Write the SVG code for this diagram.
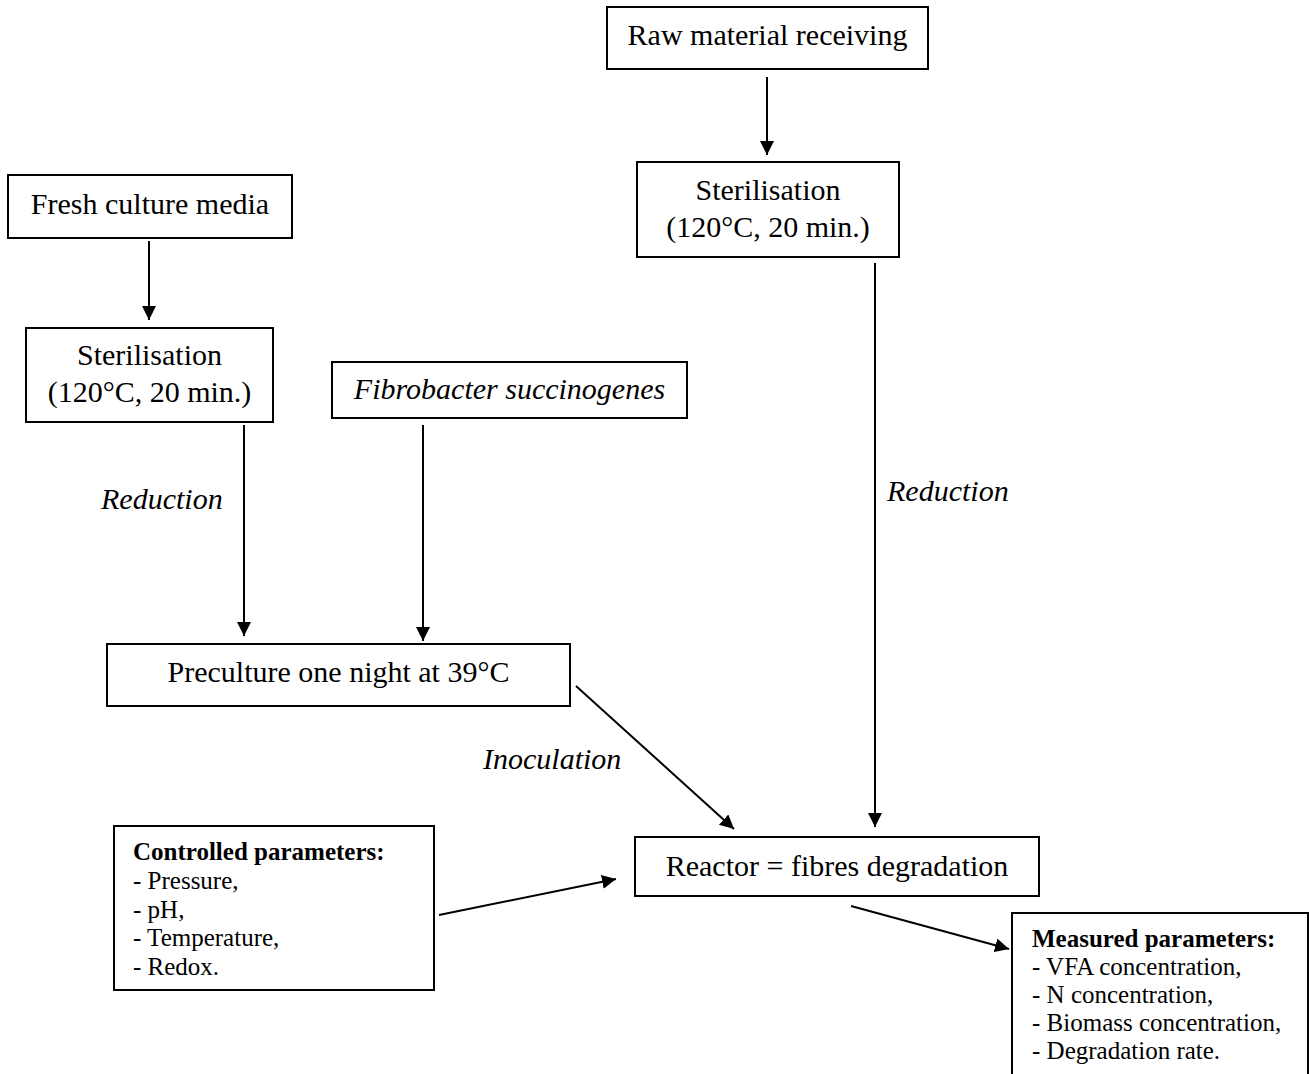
<svg xmlns="http://www.w3.org/2000/svg" width="1309" height="1074" viewBox="0 0 1309 1074">
  <style>
    .box { fill: #ffffff; stroke: #000000; stroke-width: 2; }
    .lbl { font-family: "Liberation Serif", "Times New Roman", serif; font-size: 30px; fill: #000000; }
    .mid { text-anchor: middle; }
    .it { font-style: italic; }
    .lst { font-family: "Liberation Serif", "Times New Roman", serif; font-size: 25px; fill: #000000; }
    .hd { font-weight: bold; }
    .wire { stroke: #000000; stroke-width: 2; fill: none; marker-end: url(#head); }
  </style>
  <defs>
    <marker id="head" markerUnits="userSpaceOnUse" markerWidth="15" markerHeight="15" refX="14" refY="7" orient="auto">
      <path d="M0,0 L14,7 L0,14 z" fill="#000000"/>
    </marker>
  </defs>
  <rect width="1309" height="1074" fill="#ffffff"/>

  <!-- connectors -->
  <g id="connectors">
    <line class="wire" x1="767" y1="77" x2="767" y2="155"/>
    <line class="wire" x1="149" y1="241" x2="149" y2="320"/>
    <line class="wire" x1="244" y1="425" x2="244" y2="636"/>
    <line class="wire" x1="423" y1="425" x2="423" y2="641"/>
    <line class="wire" x1="875" y1="263" x2="875" y2="827"/>
    <line class="wire" x1="576" y1="686" x2="734" y2="829"/>
    <line class="wire" x1="439" y1="915" x2="616" y2="879"/>
    <line class="wire" x1="851" y1="906" x2="1009" y2="949"/>
    <text class="lbl it" x="101" y="509">Reduction</text>
    <text class="lbl it" x="887" y="501">Reduction</text>
    <text class="lbl it" x="483" y="769">Inoculation</text>
  </g>

  <g id="raw-material">
    <rect class="box" x="607" y="7" width="321" height="62"/>
    <text class="lbl mid" x="767.5" y="45">Raw material receiving</text>
  </g>

  <g id="sterilisation-raw">
    <rect class="box" x="637" y="162" width="262" height="95"/>
    <text class="lbl mid" x="768" y="200">Sterilisation</text>
    <text class="lbl mid" x="768" y="237">(120°C, 20 min.)</text>
  </g>

  <g id="culture-media">
    <rect class="box" x="8" y="175" width="284" height="63"/>
    <text class="lbl mid" x="150" y="214">Fresh culture media</text>
  </g>

  <g id="sterilisation-media">
    <rect class="box" x="26" y="328" width="247" height="94"/>
    <text class="lbl mid" x="149.5" y="365">Sterilisation</text>
    <text class="lbl mid" x="149.5" y="402">(120°C, 20 min.)</text>
  </g>

  <g id="strain">
    <rect class="box" x="332" y="362" width="355" height="56"/>
    <text class="lbl mid it" x="509.5" y="399">Fibrobacter succinogenes</text>
  </g>

  <g id="preculture">
    <rect class="box" x="107" y="644" width="463" height="62"/>
    <text class="lbl mid" x="338.5" y="682">Preculture one night at 39°C</text>
  </g>

  <g id="reactor">
    <rect class="box" x="635" y="837" width="404" height="59"/>
    <text class="lbl mid" x="837" y="876">Reactor = fibres degradation</text>
  </g>

  <g id="controlled-parameters">
    <rect class="box" x="114" y="826" width="320" height="164"/>
    <text class="lst hd" x="133" y="860">Controlled parameters:</text>
    <text class="lst" x="133" y="889">- Pressure,</text>
    <text class="lst" x="133" y="918">- pH,</text>
    <text class="lst" x="133" y="946">- Temperature,</text>
    <text class="lst" x="133" y="975">- Redox.</text>
  </g>

  <g id="measured-parameters">
    <rect class="box" x="1012" y="913" width="296" height="200"/>
    <text class="lst hd" x="1032" y="947">Measured parameters:</text>
    <text class="lst" x="1032" y="975">- VFA concentration,</text>
    <text class="lst" x="1032" y="1003">- N concentration,</text>
    <text class="lst" x="1032" y="1031">- Biomass concentration,</text>
    <text class="lst" x="1032" y="1059">- Degradation rate.</text>
  </g>
</svg>
